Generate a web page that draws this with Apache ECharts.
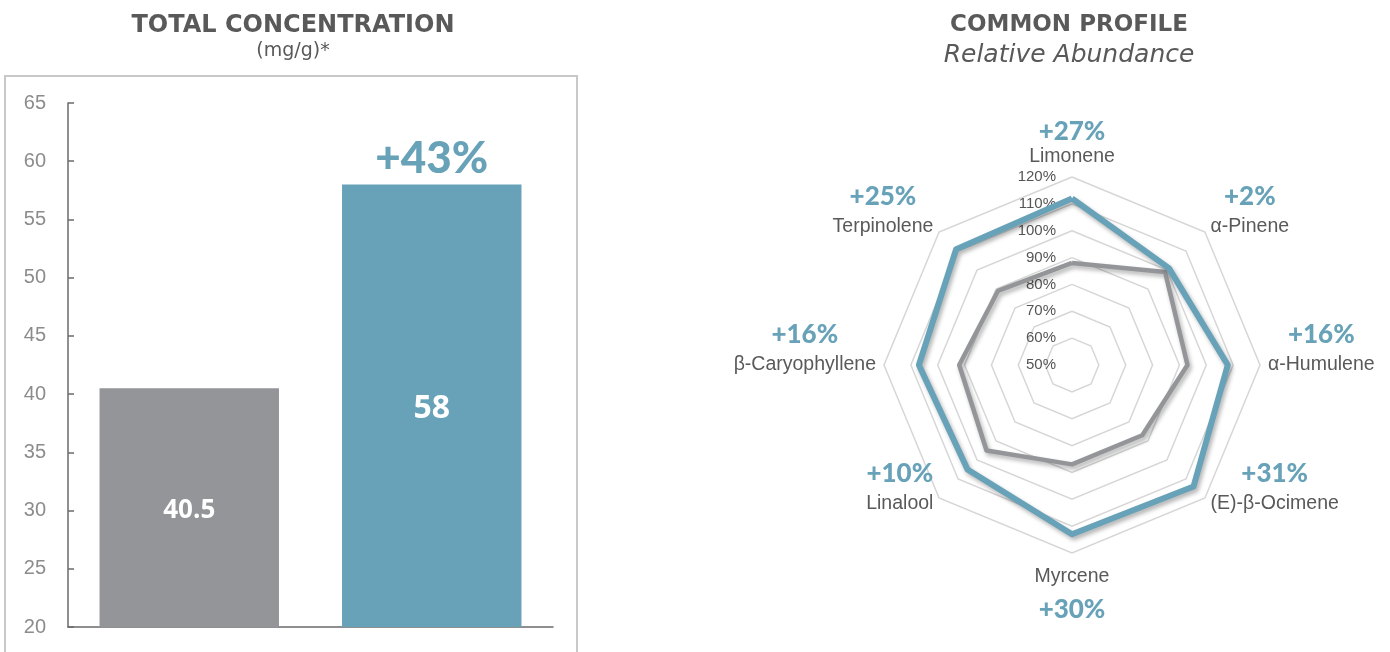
<!DOCTYPE html>
<html>
<head>
<meta charset="utf-8">
<script src="https://cdn.jsdelivr.net/npm/echarts@6/dist/echarts.min.js"></script>
<style>
  html, body { margin: 0; padding: 0; background: #fff; }
  #chart { width: 1390px; height: 652px; }
</style>
</head>
<body>
<div id="chart"></div>
<script>
// left panel: total concentration (mg/g)
const barCats = ['Reference', 'Sample'];
const barValues = [40.5, 58];
const yTicks = { min: 20, max: 65, step: 5 };

// right panel: relative abundance, counter-clockwise from the top
const terpenes = ['Limonene', 'Terpinolene', 'β-Caryophyllene', 'Linalool', 'Myrcene', '(E)-β-Ocimene', 'α-Humulene', 'α-Pinene'];
const greyProfile = [88, 89, 92, 95, 87, 87, 93, 99];
const blueProfile = [112, 111, 107, 105, 113, 114, 108, 101];
const changeLabels = ['+27%', '+25%', '+16%', '+10%', '+30%', '+31%', '+16%', '+2%'];
const radarRange = { min: 50, max: 120 };

const GREY = '#939598';
const BLUE = '#67a2b8';
const TEXT = '#595959';

const chart = echarts.init(document.getElementById('chart'));

const gain = Math.round((barValues[1] - barValues[0]) / barValues[0] * 100);

const lineShadow = { shadowColor: 'rgba(0,0,0,0.3)', shadowBlur: 4, shadowOffsetX: 2, shadowOffsetY: 3 };
const pctFont = { fontFamily: 'Lato', fontWeight: 900, fontSize: 26, color: BLUE, align: 'center' };

const option = {
  animation: false,
  textStyle: { fontFamily: 'Liberation Sans, Arial, sans-serif' },
  title: [
    {
      text: 'TOTAL CONCENTRATION',
      subtext: '(mg/g)*',
      left: 288,
      top: 9,
      textAlign: 'center',
      itemGap: 4,
      textStyle: { fontFamily: 'DejaVu Sans', fontWeight: 'bold', fontSize: 24, color: TEXT },
      subtextStyle: { fontFamily: 'DejaVu Sans', fontSize: 19, color: TEXT }
    },
    {
      text: 'COMMON PROFILE',
      subtext: 'Relative Abundance',
      left: 1064,
      top: 9,
      textAlign: 'center',
      itemGap: 6,
      textStyle: { fontFamily: 'DejaVu Sans', fontWeight: 'bold', fontSize: 23, color: TEXT },
      subtextStyle: { fontFamily: 'DejaVu Sans', fontStyle: 'italic', fontSize: 25, color: TEXT }
    }
  ],
  graphic: [
    {
      type: 'rect',
      shape: { x: 5, y: 76, width: 572, height: 620 },
      style: { fill: 'none', stroke: '#c8c8c8', lineWidth: 2 },
      silent: true
    }
  ],
  grid: { left: 68, right: 837, top: 103, bottom: 25 },
  xAxis: {
    type: 'category',
    data: barCats,
    axisLine: { lineStyle: { color: '#6b6b6b', width: 1.5 } },
    axisTick: { inside: true, length: 6, lineStyle: { color: '#6b6b6b', width: 1.5 } },
    axisLabel: { show: false }
  },
  yAxis: {
    type: 'value',
    min: yTicks.min,
    max: yTicks.max,
    interval: yTicks.step,
    axisLine: { show: true, lineStyle: { color: '#6b6b6b', width: 1.5 } },
    axisTick: { show: true, inside: true, length: 6, lineStyle: { color: '#6b6b6b', width: 1.5 } },
    axisLabel: { color: '#8c8c8c', fontSize: 20, margin: 22 },
    splitLine: { show: false }
  },
  radar: {
    center: [1072, 365],
    radius: 188,
    startAngle: 90,
    shape: 'polygon',
    splitNumber: 7,
    indicator: terpenes.map((name, i) => ({
      name: name,
      min: radarRange.min,
      max: radarRange.max,
      axisLabel: { show: i === 0 }
    })),
    axisName: {
      formatter: (name) => {
        const i = terpenes.indexOf(name);
        const pct = changeLabels[i];
        if (i === 0) return '{pt|' + pct + '}\n{n|' + name + '}';
        if (i === 4) return '{nb|' + name + '}\n{pb|' + pct + '}';
        return '{p|' + pct + '}\n{n|' + name + '}\n{e|}';
      },
      rich: {
        pt: Object.assign({ height: 26 }, pctFont),
        pb: Object.assign({ height: 34 }, pctFont),
        p: Object.assign({ height: 36 }, pctFont),
        n: { fontSize: 19.5, color: TEXT, align: 'center', height: 24 },
        nb: { fontSize: 19.5, color: TEXT, align: 'center', height: 32 },
        e: { height: 36 }
      }
    },
    nameGap: 8,
    axisLine: { show: false },
    axisTick: { show: false },
    axisLabel: { show: true, color: '#555', fontSize: 15, formatter: '{value}%', margin: 16 },
    splitLine: { lineStyle: { color: '#d6d6d6', width: 1.5 } },
    splitArea: { show: false }
  },
  series: [
    {
      type: 'bar',
      barWidth: '74%',
      data: barValues.map((v, i) => ({
        value: v,
        itemStyle: { color: i === 0 ? GREY : BLUE },
        label: { fontSize: i === 0 ? 26 : 32 }
      })),
      label: {
        show: true,
        position: 'inside',
        offset: [0, 3],
        color: '#fff',
        fontFamily: 'Open Sans',
        fontWeight: 'bold'
      }
    },
    {
      type: 'bar',
      barWidth: '74%',
      barGap: '-100%',
      silent: true,
      data: barValues.map((v, i) => (i === 1 ? v : null)),
      itemStyle: { color: 'transparent' },
      label: {
        show: true,
        position: 'top',
        distance: 4,
        formatter: '+' + gain + '%',
        color: BLUE,
        fontFamily: 'Lato',
        fontWeight: 900,
        fontSize: 44
      }
    },
    {
      type: 'radar',
      symbol: 'none',
      data: [
        { value: greyProfile, lineStyle: Object.assign({ color: GREY, width: 4.5 }, lineShadow) },
        { value: blueProfile, lineStyle: Object.assign({ color: BLUE, width: 6 }, lineShadow) }
      ]
    }
  ]
};

chart.setOption(option);
window.addEventListener('resize', () => chart.resize());
</script>
</body>
</html>
